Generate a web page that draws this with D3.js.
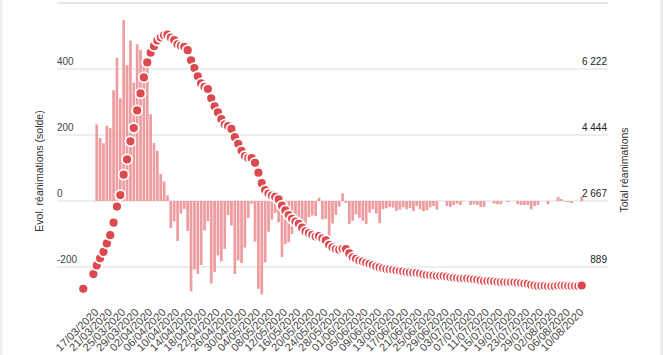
<!DOCTYPE html>
<html><head><meta charset="utf-8">
<script src="https://cdn.jsdelivr.net/npm/d3@7"></script>
<style>
html,body{margin:0;padding:0;background:#fff;}
svg{display:block;font-family:"Liberation Sans",Arial,sans-serif;}
</style></head><body>
<svg id="chart" width="663" height="355"></svg>
<script>
const dates = [
"13/03/2020","14/03/2020","15/03/2020","16/03/2020","17/03/2020","18/03/2020","19/03/2020","20/03/2020","21/03/2020","22/03/2020",
"23/03/2020","24/03/2020","25/03/2020","26/03/2020","27/03/2020","28/03/2020","29/03/2020","30/03/2020","31/03/2020","01/04/2020",
"02/04/2020","03/04/2020","04/04/2020","05/04/2020","06/04/2020","07/04/2020","08/04/2020","09/04/2020","10/04/2020","11/04/2020",
"12/04/2020","13/04/2020","14/04/2020","15/04/2020","16/04/2020","17/04/2020","18/04/2020","19/04/2020","20/04/2020","21/04/2020",
"22/04/2020","23/04/2020","24/04/2020","25/04/2020","26/04/2020","27/04/2020","28/04/2020","29/04/2020","30/04/2020","01/05/2020",
"02/05/2020","03/05/2020","04/05/2020","05/05/2020","06/05/2020","07/05/2020","08/05/2020","09/05/2020","10/05/2020","11/05/2020",
"12/05/2020","13/05/2020","14/05/2020","15/05/2020","16/05/2020","17/05/2020","18/05/2020","19/05/2020","20/05/2020","21/05/2020",
"22/05/2020","23/05/2020","24/05/2020","25/05/2020","26/05/2020","27/05/2020","28/05/2020","29/05/2020","30/05/2020","31/05/2020",
"01/06/2020","02/06/2020","03/06/2020","04/06/2020","05/06/2020","06/06/2020","07/06/2020","08/06/2020","09/06/2020","10/06/2020",
"11/06/2020","12/06/2020","13/06/2020","14/06/2020","15/06/2020","16/06/2020","17/06/2020","18/06/2020","19/06/2020","20/06/2020",
"21/06/2020","22/06/2020","23/06/2020","24/06/2020","25/06/2020","26/06/2020","27/06/2020","28/06/2020","29/06/2020","30/06/2020",
"01/07/2020","02/07/2020","03/07/2020","04/07/2020","05/07/2020","06/07/2020","07/07/2020","08/07/2020","09/07/2020","10/07/2020",
"11/07/2020","12/07/2020","13/07/2020","14/07/2020","15/07/2020","16/07/2020","17/07/2020","18/07/2020","19/07/2020","20/07/2020",
"21/07/2020","22/07/2020","23/07/2020","24/07/2020","27/07/2020","28/07/2020","29/07/2020","30/07/2020","31/07/2020","01/08/2020",
"02/08/2020","03/08/2020","04/08/2020","05/08/2020","06/08/2020","07/08/2020","08/08/2020","09/08/2020","10/08/2020"
];

// Total réanimations (right axis)
const totalRea = [
300,null,null,699,931,1122,1297,1525,1746,2082,
2516,2827,3375,3787,4273,4632,5107,5565,5996,6399,
6662,6838,6990,7072,7131,7148,7066,7004,6883,6845,
6821,6730,6456,6248,6027,5833,5744,5683,5433,5218,
5053,4870,4725,4682,4608,4387,4207,4019,3878,3827,
3819,3696,3430,3147,2961,2868,2812,2776,2712,2542,
2412,2287,2187,2112,2052,1948,1848,1799,1755,1709,
1719,1663,1609,1483,1415,1373,1356,1379,1373,1255,
1150,1109,1058,1037,1001,975,940,902,877,852,
832,824,814,794,778,769,754,743,733,728,
713,692,674,665,660,644,644,644,629,611,
599,591,579,579,579,567,557,545,527,509,
509,509,501,491,481,481,478,478,478,468,
456,444,432,407,392,380,380,380,370,370,
370,382,388,386,383,377,377,377,390
];

// Evol. réanimations (solde), left axis
const evolRea = [
null,null,null,null,232,191,175,228,221,336,
434,311,548,412,486,359,475,458,431,403,
263,176,152,82,59,17,-82,-62,-121,-38,
-24,-91,-274,-208,-221,-194,-89,-61,-250,-215,
-165,-183,-145,-43,-74,-221,-180,-188,-141,-51,
-8,-123,-266,-283,-186,-93,-56,-36,-64,-170,
-130,-125,-100,-75,-60,-104,-100,-49,-44,-46,
10,-56,-54,-126,-68,-42,-17,23,-6,-70,
-60,-41,-51,-60,-70,-35,-25,-38,-67,-25,
-22,-18,-20,-30,-26,-19,-25,-21,-30,-15,
-25,-31,-28,-19,-15,-26,0,0,-15,-18,
-12,-8,-12,0,0,-12,-10,-12,-18,-18,
0,0,-8,-10,-10,0,-3,0,0,-10,
-12,-12,-12,-25,-15,-12,0,0,-10,0,
0,12,6,-2,-3,-6,0,0,13
];

const leftTicks = [-200, 0, 200, 400];
const leftGridTop = 600;
const rightTicks = [889, 2667, 4444, 6222];
const labelStart = 4, labelEvery = 4;

const svg = d3.select("#chart");
const n = dates.length;
const x = d3.scaleLinear().domain([-7.8, n - 1 + 7.8]).range([57, 608]);
const yL = d3.scaleLinear().domain([-300, 600]).range([300, 3]);
const yR = d3.scaleLinear().domain([0, 8000]).range([300, 3]);

// frame edges
svg.append("rect").attr("x",0).attr("y",0).attr("width",2.5).attr("height",355).attr("fill","#efefef");
svg.append("rect").attr("x",660.5).attr("y",0).attr("width",2.5).attr("height",355).attr("fill","#e9e9e9");

// gridlines
const grid = svg.append("g");
grid.selectAll("line.g").data(leftTicks).join("line")
  .attr("x1", x.range()[0]).attr("x2", x.range()[1])
  .attr("y1", d => yL(d)).attr("y2", d => yL(d))
  .attr("stroke", "#dddddd").attr("stroke-width", 1);
grid.append("line")
  .attr("x1", x.range()[0]).attr("x2", x.range()[1])
  .attr("y1", yL(leftGridTop)).attr("y2", yL(leftGridTop))
  .attr("stroke", "#e6e6e6").attr("stroke-width", 2);

// bars
const bw = 2.7;
svg.append("g").selectAll("rect").data(evolRea.map((v,i)=>({v,i})).filter(d=>d.v!==null && d.v!==0)).join("rect")
  .attr("x", d => x(d.i) - bw/2)
  .attr("width", bw)
  .attr("y", d => Math.min(yL(d.v), yL(0)))
  .attr("height", d => Math.abs(yL(d.v) - yL(0)))
  .attr("fill", "#ee9c9f");

// points
svg.append("g").selectAll("circle").data(totalRea.map((v,i)=>({v,i})).filter(d=>d.v!==null)).join("circle")
  .attr("cx", d => x(d.i))
  .attr("cy", d => yR(d.v))
  .attr("r", 5)
  .attr("fill", "#dc4a4f")
  .attr("stroke", "#ffffff")
  .attr("stroke-width", 1.8);

// left tick labels
svg.append("g").selectAll("text").data(leftTicks).join("text")
  .attr("x", 57).attr("y", d => yL(d) - 4)
  .attr("font-size", 10).attr("fill", "#444")
  .text(d => String(d));

// right tick labels
const fr = d3.formatLocale({decimal:",", thousands:"\u00a0", grouping:[3], currency:["","€"]});
const fmt = fr.format(",d");
svg.append("g").selectAll("text").data(rightTicks).join("text")
  .attr("x", 607).attr("y", d => yR(d) - 4)
  .attr("text-anchor", "end")
  .attr("font-size", 10).attr("fill", "#222")
  .text(d => fmt(d));

// x labels
const idx = d3.range(labelStart, n, labelEvery);
const xAxis = d3.axisBottom(x).tickValues(idx).tickFormat(i => dates[i]).tickSize(0).tickPadding(0);
const gx = svg.append("g").attr("transform", "translate(0,313)").call(xAxis);
gx.select(".domain").remove();
gx.selectAll("text")
  .attr("font-family", "Liberation Sans, Arial, sans-serif")
  .attr("font-size", 11).attr("fill", "#444")
  .attr("text-anchor", "end")
  .attr("dy", "0")
  .attr("transform", "translate(2,0) rotate(-45)");

// axis titles
svg.append("text")
  .attr("transform", "translate(39,171) rotate(-90)")
  .attr("text-anchor", "middle").attr("dy", "0.35em")
  .attr("font-size", 10.5).attr("fill", "#333")
  .text("Evol. réanimations (solde)");
svg.append("text")
  .attr("transform", "translate(624,170) rotate(-90)")
  .attr("text-anchor", "middle").attr("dy", "0.35em")
  .attr("font-size", 10.5).attr("fill", "#333")
  .text("Total réanimations");
</script>
</body></html>
